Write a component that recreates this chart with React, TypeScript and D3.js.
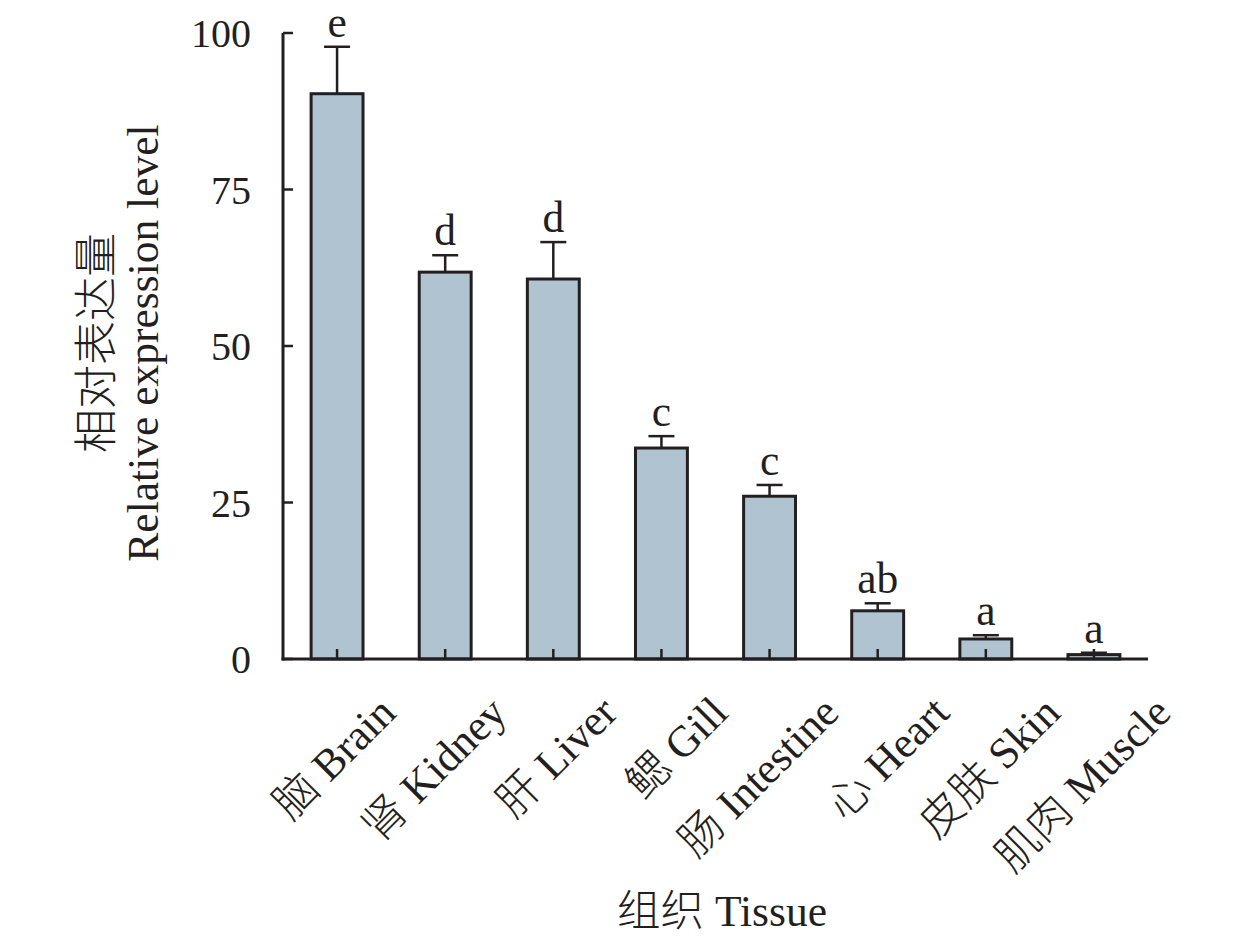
import React from "react";
import * as d3 from "d3";

const categories = ["脑 Brain", "肾 Kidney", "肝 Liver", "鳃 Gill", "肠 Intestine", "心 Heart", "皮肤 Skin", "肌肉 Muscle"];
const means = [90.3, 61.8, 60.7, 33.7, 26.0, 7.7, 3.2, 0.7];
const errors = [7.5, 2.7, 5.9, 1.9, 1.8, 1.2, 0.6, 0.3];
const letters = ["e", "d", "d", "c", "c", "ab", "a", "a"];
const yTicks = [0, 25, 50, 75, 100];

const W = 1260, H = 948;
const left = 283, right = 1148, top = 33, bottom = 659;
const FONT = "'Liberation Serif', 'Noto Sans CJK SC', serif";
const CJK = "'Noto Sans CJK SC', sans-serif";
const INK = "#231f20";

function Label({ s }: { s: string }) {
  const i = s.indexOf(" ");
  const zh = s.slice(0, i);
  const en = s.slice(i);
  return (
    <>
      <tspan fontFamily={CJK} fontWeight={300}>{zh}</tspan>
      <tspan>{en}</tspan>
    </>
  );
}

export default function App() {
  const x = d3.scaleBand<string>().domain(categories).range([left, right]).paddingInner(0.52).paddingOuter(0.26);
  const xl = d3.scalePoint<string>().domain(categories).range([398, 1173]);
  const y = d3.scaleLinear().domain([0, 100]).range([bottom, top]);
  const bw = x.bandwidth();
  const fs = 40;
  const fl = 43.5;
  return (
    <svg width={W} height={H} style={{ position: "absolute", left: 0, top: 0, background: "#fff" }} fontFamily={FONT}>
      {categories.map((c, i) => {
        const cx = (x(c) as number) + bw / 2;
        const yt = y(means[i]);
        const ye = y(means[i] + errors[i]);
        return (
          <g key={c}>
            <line x1={cx} x2={cx} y1={yt} y2={ye} stroke={INK} strokeWidth={2.5} />
            <line x1={cx - 13} x2={cx + 13} y1={ye} y2={ye} stroke={INK} strokeWidth={2.5} />
            <rect x={x(c)} y={yt} width={bw} height={bottom - yt} fill="#afc4d0" stroke={INK} strokeWidth={3} />
            <line x1={cx} x2={cx} y1={bottom} y2={bottom - 10} stroke={INK} strokeWidth={2.5} />
            <text x={cx} y={ye - 10} textAnchor="middle" fontSize={fl} fill={INK}>{letters[i]}</text>
            <text transform={`translate(${xl(c)},${715}) rotate(-45)`} textAnchor="end" fontSize={fl} fill={INK}><Label s={c} /></text>
          </g>
        );
      })}
      <line x1={left} x2={left} y1={top} y2={bottom + 1.5} stroke={INK} strokeWidth={3} />
      <line x1={left - 1.5} x2={right} y1={bottom} y2={bottom} stroke={INK} strokeWidth={3} />
      {yTicks.map((t) => (
        <g key={t}>
          <line x1={left} x2={left + 10} y1={y(t)} y2={y(t)} stroke={INK} strokeWidth={2.5} />
          <text x={251} y={y(t)} dy="0.35em" textAnchor="end" fontSize={fs} fill={INK}>{t}</text>
        </g>
      ))}
      <text transform={`translate(112,343) rotate(-90)`} textAnchor="middle" fontSize={44} fontFamily={CJK} fontWeight={300} fill={INK}>相对表达量</text>
      <text transform={`translate(158,343) rotate(-90)`} textAnchor="middle" fontSize={fl} fill={INK}>Relative expression level</text>
      <text x={722} y={926} textAnchor="middle" fontSize={fl} fill={INK}><Label s="组织 Tissue" /></text>
    </svg>
  );
}
